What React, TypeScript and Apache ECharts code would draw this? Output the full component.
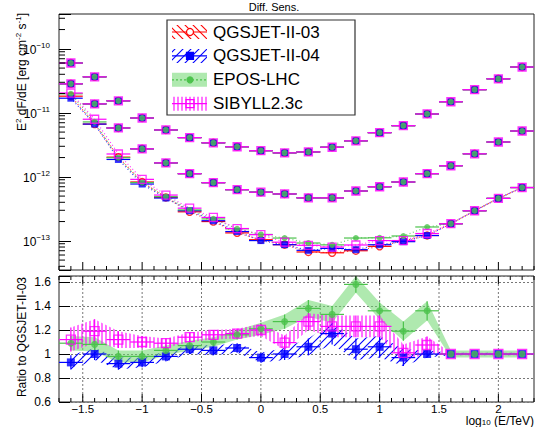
import React, { useEffect, useRef } from 'react';
import * as echarts from 'echarts';

// ---------------- data ----------------
const energies = [-1.6, -1.4, -1.2, -1.0, -0.8, -0.6, -0.4, -0.2, 0.0, 0.2, 0.4, 0.6, 0.8, 1.0, 1.2, 1.4, 1.6, 1.8, 2.0, 2.2];
const binHalfWidth = 0.1;

// three sensitivity curves (erg cm^-2 s^-1)
const sensHigh = [6.0e-11, 3.65e-11, 1.54e-11, 8.3e-12, 5.4e-12, 4.1e-12, 3.4e-12, 2.95e-12, 2.56e-12, 2.37e-12, 2.45e-12, 2.9e-12, 3.65e-12, 4.9e-12, 6.3e-12, 9.6e-12, 1.49e-11, 2.3e-11, 3.4e-11, 5.2e-11];
const sensMid = [2.84e-11, 1.38e-11, 5.8e-12, 2.74e-12, 1.65e-12, 1.12e-12, 8.1e-13, 6.3e-13, 5.75e-13, 5.4e-13, 4.7e-13, 4.7e-13, 6.0e-13, 7.0e-13, 8.3e-13, 1.12e-12, 1.49e-12, 2.29e-12, 3.5e-12, 5.2e-12];
const sensLowQ03 = [1.82e-11, 6.67e-12, 2.03e-12, 8.3e-13, 4.76e-13, 2.84e-13, 2.0e-13, 1.33e-13, 1.04e-13, 8.7e-14, 6.7e-14, 6.5e-14, 7.0e-14, 8.2e-14, 1.0e-13, 1.21e-13, 1.85e-13, 2.95e-13, 4.6e-13, 6.8e-13];

// ratios to QGSJET-II-03 and their uncertainties
const ratioQ03 = [1, 1, 1, 1, 1, 1, 1, 1, 1, 1, 1, 1, 1, 1, 1, 1, 1, 1, 1, 1];
const errQ03 = [0.02, 0.02, 0.02, 0.02, 0.02, 0.02, 0.02, 0.02, 0.02, 0.02, 0.02, 0.02, 0.02, 0.02, 0.02, 0.02, 0.01, 0.01, 0.01, 0.01];
const ratioQ04 = [0.93, 1.0, 0.92, 0.93, 0.98, 1.04, 1.03, 1.05, 0.97, 1.0, 1.06, 1.17, 1.04, 1.06, 0.97, 1.0, 1.0, 1.0, 1.0, 1.0];
const errQ04 = [0.06, 0.05, 0.05, 0.04, 0.04, 0.04, 0.04, 0.04, 0.04, 0.05, 0.07, 0.09, 0.09, 0.09, 0.07, 0.03, 0.01, 0.01, 0.01, 0.01];
const ratioEPOS = [1.09, 1.08, 0.98, 0.98, 1.03, 1.07, 1.1, 1.16, 1.21, 1.27, 1.38, 1.33, 1.58, 1.36, 1.19, 1.36, 1.0, 1.0, 1.0, 1.0];
const errEPOS = [0.06, 0.06, 0.05, 0.05, 0.04, 0.04, 0.04, 0.04, 0.05, 0.06, 0.07, 0.07, 0.07, 0.07, 0.08, 0.08, 0.03, 0.03, 0.03, 0.03];
const ratioSIB = [1.12, 1.19, 1.12, 1.1, 1.09, 1.14, 1.16, 1.17, 1.2, 1.095, 1.27, 1.23, 1.23, 1.23, 1.01, 1.075, 1.0, 1.0, 1.0, 1.0];
const errSIB = [0.1, 0.1, 0.07, 0.05, 0.04, 0.04, 0.04, 0.04, 0.05, 0.06, 0.07, 0.09, 0.09, 0.09, 0.07, 0.07, 0.01, 0.01, 0.01, 0.01];

const modelNames = ['QGSJET-II-03', 'QGSJET-II-04', 'EPOS-LHC', 'SIBYLL2.3c'];
const modelRatios = [ratioQ03, ratioQ04, ratioEPOS, ratioSIB];
const modelErrors = [errQ03, errQ04, errEPOS, errSIB];

const xTickLabels = [-1.5, -1, -0.5, 0, 0.5, 1, 1.5, 2];
const ratioTickLabels = [0.6, 0.8, 1, 1.2, 1.4, 1.6];
const titleText = 'Diff. Sens.';

// ---------------- styles ----------------
const FONT = 'Liberation Sans';
const X_MIN = -1.7, X_MAX = 2.3;
const Y_MIN = 3.5e-14, Y_MAX = 3.5e-10;
const R_MIN = 0.6, R_MAX = 1.65;

const styles = [
  { color: '#ff0000', symbol: 'circle', size: 7, open: true, hatch: 'back' },
  { color: '#0000ff', symbol: 'rect', size: 7, open: false, hatch: 'fwd' },
  { color: '#4cc24c', symbol: 'circle', size: 6, open: false, hatch: 'fill' },
  { color: '#ff00ff', symbol: 'rect', size: 8, open: true, hatch: 'vert' },
];

function makePattern(color: string, kind: string, size: number, lw: number) {
  const c = document.createElement('canvas');
  c.width = size; c.height = size;
  const g = c.getContext('2d') as CanvasRenderingContext2D;
  g.strokeStyle = color; g.lineWidth = lw;
  g.beginPath();
  if (kind === 'vert') {
    g.moveTo(size / 2, 0); g.lineTo(size / 2, size);
  } else if (kind === 'fwd') {
    g.moveTo(0, size); g.lineTo(size, 0);
    g.moveTo(-1, 1); g.lineTo(1, -1);
    g.moveTo(size - 1, size + 1); g.lineTo(size + 1, size - 1);
  } else {
    g.moveTo(0, 0); g.lineTo(size, size);
    g.moveTo(size - 1, -1); g.lineTo(size + 1, 1);
    g.moveTo(-1, size - 1); g.lineTo(1, size + 1);
  }
  g.stroke();
  return { image: c, repeat: 'repeat', imageWidth: size, imageHeight: size } as any;
}

function bandFill(idx: number) {
  const s = styles[idx];
  if (s.hatch === 'fill') return 'rgba(110, 215, 110, 0.55)';
  if (s.hatch === 'vert') return makePattern(s.color, 'vert', 4, 1.1);
  if (s.hatch === 'fwd') return makePattern(s.color, 'fwd', 8, 1.1);
  return makePattern(s.color, 'back', 8, 1.1);
}

function fmtX(v: number) {
  const s = String(Math.abs(Math.round(v * 10) / 10));
  return v < -1e-9 ? '\u2212' + s : s;
}

export default function App() {
  const ref = useRef<HTMLDivElement>(null);

  useEffect(() => {
    if (!ref.current) return;
    const chart = echarts.init(ref.current, undefined, { renderer: 'svg' });

    const series: any[] = [];

    const tickLine = (x1: number, y1: number, x2: number, y2: number, dash?: number[], color = '#000') => ({
      type: 'line',
      shape: { x1, y1, x2, y2 },
      style: { stroke: color, lineWidth: 1, lineDash: dash },
    });

    const xTickValues: number[] = [];
    for (let k = -17; k <= 23; k++) xTickValues.push(k / 10);

    const xTicks = (gi: number, yRef: number, sides: string[], majLen: number, minLen: number) => ({
      type: 'custom', xAxisIndex: gi, yAxisIndex: gi, z: 8, silent: true,
      data: xTickValues.map((v) => [v, yRef]),
      renderItem: (params: any, api: any) => {
        const cs = params.coordSys;
        const v = api.value(0);
        const isMaj = Math.abs(v * 2 - Math.round(v * 2)) < 1e-6;
        const len = isMaj ? majLen : minLen;
        const px = api.coord([v, yRef])[0];
        const ch: any[] = [];
        if (sides.indexOf('bottom') >= 0) ch.push(tickLine(px, cs.y + cs.height, px, cs.y + cs.height - len));
        if (sides.indexOf('top') >= 0) ch.push(tickLine(px, cs.y, px, cs.y + len));
        return { type: 'group', children: ch };
      },
    });

    series.push(xTicks(0, 1e-12, ['bottom'], 8, 4));
    series.push(xTicks(1, 1, ['bottom', 'top'], 8, 4));

    // ratio panel vertical dotted grid
    series.push({
      type: 'custom', xAxisIndex: 1, yAxisIndex: 1, z: 0, silent: true,
      data: xTickLabels.map((v) => [v, 1]),
      renderItem: (params: any, api: any) => {
        const cs = params.coordSys;
        const px = api.coord([api.value(0), 1])[0];
        return tickLine(px, cs.y, px, cs.y + cs.height, [2, 2], '#777');
      },
    });

    // log minor ticks
    const logMinor: number[] = [];
    for (let n = -14; n <= -10; n++) {
      for (let k = 2; k <= 9; k++) {
        const v = k * Math.pow(10, n);
        if (v > Y_MIN && v < Y_MAX) logMinor.push(v);
      }
    }
    series.push({
      type: 'custom', xAxisIndex: 0, yAxisIndex: 0, z: 8, silent: true,
      data: logMinor.map((v) => [X_MIN, v]),
      renderItem: (params: any, api: any) => {
        const cs = params.coordSys;
        const py = api.coord([X_MIN, api.value(1)])[1];
        return tickLine(cs.x, py, cs.x + 6, py);
      },
    });

    // ---- per-model series ----
    modelNames.forEach((name, mi) => {
      const st = styles[mi];
      const r = modelRatios[mi];
      const e = modelErrors[mi];
      const low = sensLowQ03.map((v, i) => v * r[i]);
      const topPts: number[][] = [];
      energies.forEach((x, i) => {
        topPts.push([x, sensHigh[i]]);
        topPts.push([x, sensMid[i]]);
        topPts.push([x, low[i]]);
      });

      const barRender = (withY: boolean) => (params: any, api: any) => {
        const x = api.value(0), y = api.value(1), ey = api.value(2);
        const a = api.coord([x - binHalfWidth, y]);
        const b = api.coord([x + binHalfWidth, y]);
        const ch: any[] = [{ type: 'line', shape: { x1: a[0], y1: a[1], x2: b[0], y2: b[1] }, style: { stroke: st.color, lineWidth: 1.2 } }];
        if (withY && ey > 0) {
          const c = api.coord([x, y - ey]);
          const d = api.coord([x, y + ey]);
          ch.push({ type: 'line', shape: { x1: c[0], y1: c[1], x2: d[0], y2: d[1] }, style: { stroke: st.color, lineWidth: 1.2 } });
        }
        return { type: 'group', children: ch };
      };

      const markerStyle = st.open
        ? { color: 'rgba(255,255,255,0)', borderColor: st.color, borderWidth: 1.3 }
        : { color: st.color, borderWidth: 0 };

      series.push({
        type: 'line', name, xAxisIndex: 0, yAxisIndex: 0, z: 2, silent: true,
        data: energies.map((x, i) => [x, low[i]]),
        showSymbol: false,
        lineStyle: { color: st.color, width: 1.2, type: [1, 2.5], opacity: 0.8 },
      });
      series.push({
        type: 'custom', name, xAxisIndex: 0, yAxisIndex: 0, z: 3, silent: true,
        data: topPts,
        renderItem: barRender(false),
      });
      series.push({
        type: 'scatter', name, xAxisIndex: 0, yAxisIndex: 0, z: 4, silent: true,
        data: topPts,
        symbol: st.symbol,
        symbolSize: st.size,
        itemStyle: markerStyle,
      });

      if (mi === 0) return;
      series.push({
        type: 'custom', name, xAxisIndex: 1, yAxisIndex: 1, z: 1, silent: true, clip: true,
        data: [[0, 1]],
        renderItem: (params: any, api: any) => {
          const up = energies.map((x, i) => api.coord([x, r[i] + e[i]]));
          const dn = energies.map((x, i) => api.coord([x, r[i] - e[i]])).reverse();
          return { type: 'polygon', shape: { points: up.concat(dn) }, style: { fill: bandFill(mi), stroke: 'none' } };
        },
      });
      series.push({
        type: 'custom', name, xAxisIndex: 1, yAxisIndex: 1, z: 3, silent: true, clip: true,
        data: energies.map((x, i) => [x, r[i], e[i]]),
        renderItem: barRender(true),
      });
      series.push({
        type: 'scatter', name, xAxisIndex: 1, yAxisIndex: 1, z: 4, silent: true,
        data: energies.map((x, i) => [x, r[i]]),
        symbol: st.symbol,
        symbolSize: st.size + 1,
        itemStyle: markerStyle,
      });
    });

    // ---- legend graphic ----
    const legendX = 167, legendY = 20, legendW = 188, legendH = 95;
    const legendEls: any[] = [
      { type: 'rect', shape: { x: legendX, y: legendY, width: legendW, height: legendH }, style: { fill: '#fff', stroke: '#333', lineWidth: 1.2 }, z: 100 },
    ];
    modelNames.forEach((name, mi) => {
      const st = styles[mi];
      const cy = legendY + 12 + mi * 23.9;
      legendEls.push({ type: 'rect', shape: { x: 172, y: cy - 7, width: 35, height: 14 }, style: { fill: bandFill(mi), stroke: 'none' }, z: 101 });
      legendEls.push({ type: 'line', shape: { x1: 172, y1: cy, x2: 207, y2: cy }, style: { stroke: st.color, lineWidth: 1.2, lineDash: mi === 2 ? [2, 2] : undefined }, z: 102 });
      if (st.symbol === 'circle') {
        legendEls.push({ type: 'circle', shape: { cx: 190, cy, r: st.size / 2 }, style: { fill: st.open ? '#fff' : st.color, stroke: st.color, lineWidth: 1.2 }, z: 103 });
      } else {
        legendEls.push({ type: 'rect', shape: { x: 190 - st.size / 2, y: cy - st.size / 2, width: st.size, height: st.size }, style: { fill: st.open ? 'rgba(255,255,255,0)' : st.color, stroke: st.color, lineWidth: 1.2 }, z: 103 });
      }
      legendEls.push({ type: 'text', x: 213, y: cy, style: { text: name, fill: '#000', font: `17px ${FONT}`, verticalAlign: 'middle', align: 'left' }, z: 103 });
    });

    const graphic: any[] = [
      ...legendEls,
      { type: 'text', x: 274, y: 12, style: { text: titleText, fill: '#000', font: `11px ${FONT}`, align: 'center', verticalAlign: 'bottom' } },
      {
        type: 'text', x: 22, y: 13, rotation: Math.PI / 2,
        style: {
          text: '{n|E}{s|2}{n| dF/dE [erg cm}{s|-2}{n| s}{s|-1}{n|]}',
          align: 'right', verticalAlign: 'middle',
          rich: {
            n: { fontSize: 12, fontFamily: FONT, lineHeight: 15, fill: '#000' },
            s: { fontSize: 8, fontFamily: FONT, lineHeight: 8, verticalAlign: 'top', fill: '#000' },
          },
        },
      },
      { type: 'text', x: 22, y: 277, rotation: Math.PI / 2, style: { text: 'Ratio to QGSJET-II-03', fill: '#000', font: `12px ${FONT}`, align: 'right', verticalAlign: 'middle' } },
      {
        type: 'text', x: 534, y: 421,
        style: {
          text: '{n|log}{s|10}{n| (E/TeV)}',
          align: 'right', verticalAlign: 'middle',
          rich: {
            n: { fontSize: 12, fontFamily: FONT, lineHeight: 11, fill: '#000' },
            s: { fontSize: 8, fontFamily: FONT, lineHeight: 8, verticalAlign: 'bottom', fill: '#000' },
          },
        },
      },
    ];

    const option: any = {
      animation: false,
      backgroundColor: '#fff',
      textStyle: { fontFamily: FONT },
      grid: [
        { left: 59, top: 14, width: 475, height: 256, show: true, borderColor: '#222', borderWidth: 1, backgroundColor: 'rgba(0,0,0,0)' },
        { left: 59, top: 276, width: 475, height: 126, show: true, borderColor: '#222', borderWidth: 1, backgroundColor: 'rgba(0,0,0,0)' },
      ],
      xAxis: [
        { type: 'value', gridIndex: 0, min: X_MIN, max: X_MAX, interval: 0.1, axisLine: { show: false, onZero: false }, axisTick: { show: false }, axisLabel: { show: false }, splitLine: { show: false } },
        {
          type: 'value', gridIndex: 1, min: X_MIN, max: X_MAX, interval: 0.1,
          axisLine: { show: false, onZero: false }, axisTick: { show: false }, splitLine: { show: false },
          axisLabel: {
            show: true, margin: 1, color: '#000', fontSize: 11.5, fontFamily: FONT, lineHeight: 11,
            formatter: (v: number) => {
              const hit = xTickLabels.find((t) => Math.abs(t - v) < 1e-6);
              return hit === undefined ? '' : fmtX(hit);
            },
          },
        },
      ],
      yAxis: [
        {
          type: 'log', gridIndex: 0, logBase: 10, min: Y_MIN, max: Y_MAX,
          axisLine: { show: false, onZero: false }, splitLine: { show: false },
          axisTick: { show: true, inside: true, length: 12, lineStyle: { color: '#000' } },
          axisLabel: {
            margin: 9,
            formatter: (v: number) => {
              const e = Math.log10(v);
              const n = Math.round(e);
              if (Math.abs(e - n) > 1e-3) return '';
              return `{b|10}{s|\u2212${Math.abs(n)}}`;
            },
            rich: {
              b: { fontSize: 12, fontFamily: FONT, color: '#000', lineHeight: 14, verticalAlign: 'bottom' },
              s: { fontSize: 8, fontFamily: FONT, color: '#000', lineHeight: 8, verticalAlign: 'top' },
            },
          },
        },
        {
          type: 'value', gridIndex: 1, min: R_MIN, max: R_MAX, interval: 0.2,
          axisLine: { show: false, onZero: false },
          axisTick: { show: true, inside: true, length: 11, lineStyle: { color: '#000' } },
          splitLine: { show: true, lineStyle: { color: '#777', type: [2, 2], width: 1 } },
          axisLabel: {
            margin: 8, color: '#000', fontSize: 12, fontFamily: FONT,
            formatter: (v: number) => {
              const hit = ratioTickLabels.find((t) => Math.abs(t - v) < 1e-6);
              return hit === undefined ? '' : String(hit);
            },
          },
        },
      ],
      series,
      graphic,
    };

    chart.setOption(option);
    return () => chart.dispose();
  }, []);

  return <div ref={ref} style={{ position: 'absolute', left: 0, top: 0, width: 538, height: 427 }} />;
}
